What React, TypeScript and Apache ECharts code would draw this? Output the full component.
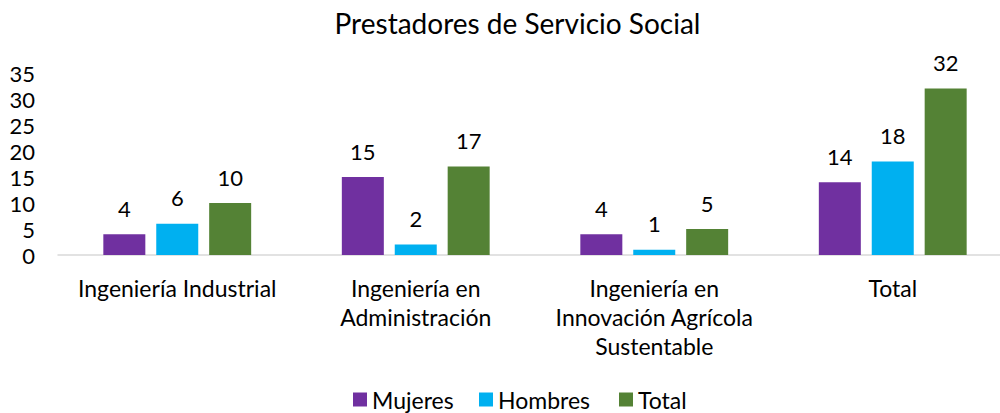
import React, { useEffect, useRef } from "react";
import * as echarts from "echarts";

const categories = ["Ingeniería Industrial", "Ingeniería en\nAdministración", "Ingeniería en\nInnovación Agrícola\nSustentable", "Total"];
const mujeres = [4, 15, 4, 14];
const hombres = [6, 2, 1, 18];
const total = [10, 17, 5, 32];
const seriesNames = ["Mujeres", "Hombres", "Total"];
const colors = ["#7030A0", "#00B0F0", "#548235"];

const FONT = "Lato, 'Noto Sans', sans-serif";

export default function App() {
  const ref = useRef<HTMLDivElement>(null);
  useEffect(() => {
    document.body.style.margin = "0";
    document.body.style.overflow = "hidden";
    const chart = echarts.init(ref.current!, null, { renderer: "svg" });
    const data = [mujeres, hombres, total];
    const legendLefts = [353, 479, 619];
    chart.setOption({
      animation: false,
      textStyle: { fontFamily: FONT },
      title: {
        text: "Prestadores de Servicio Social",
        left: "center",
        top: 4,
        textStyle: { fontFamily: FONT, fontSize: 28, fontWeight: "normal", color: "#000" },
      },
      legend: seriesNames.map((name, i) => ({
        left: legendLefts[i],
        top: 388,
        itemWidth: 14,
        itemHeight: 14,
        icon: "rect",
        textStyle: { fontFamily: FONT, fontSize: 23, color: "#000" },
        padding: 0,
        data: [name],
      })),
      grid: { left: 58, top: 73, right: 23, height: 182, containLabel: false },
      xAxis: {
        type: "category",
        data: categories,
        axisLine: { lineStyle: { color: "#D9D9D9", width: 1.5 } },
        axisTick: { show: false },
        axisLabel: { fontFamily: FONT, fontSize: 23, color: "#000", margin: 18, lineHeight: 29, interval: 0 },
      },
      yAxis: {
        type: "value",
        min: 0,
        max: 35,
        interval: 5,
        splitLine: { show: false },
        axisLine: { show: false },
        axisTick: { show: false },
        axisLabel: { fontFamily: FONT, fontSize: 22, color: "#000", margin: 23 },
      },
      series: seriesNames.map((name, i) => ({
        name,
        type: "bar",
        data: data[i],
        barWidth: 42,
        barGap: "26%",
        itemStyle: { color: colors[i] },
        label: {
          show: true,
          position: "top",
          distance: 15,
          fontFamily: FONT,
          fontSize: 22,
          color: "#000",
        },
      })),
    });
    return () => chart.dispose();
  }, []);
  return <div ref={ref} style={{ width: 1035, height: 413 }} />;
}
